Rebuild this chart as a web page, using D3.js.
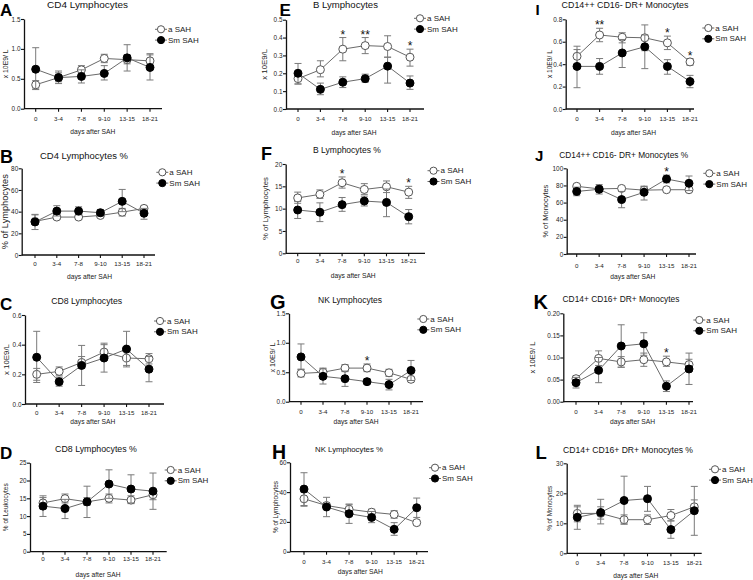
<!DOCTYPE html>
<html>
<head>
<meta charset="utf-8">
<script src="https://cdn.jsdelivr.net/npm/d3@7"></script>
<style>
  body { margin: 0; background: #fff; }
  svg { display: block; font-family: "Liberation Sans", Arial, sans-serif; }
</style>
</head>
<body>
<svg id="chart" width="753" height="580"></svg>
<script>
// x categories
var days = ["0", "3-4", "7-8", "9-10", "13-15", "18-21"];
var seriesNames = ["a SAH", "Sm SAH"];

// each point: [mean, low end of bar, high end of bar]
var cd4_a  = [[0.40,0.33,0.47],[0.52,0.45,0.60],[0.65,0.58,0.72],[0.84,0.77,0.91],[0.82,0.75,0.90],[0.80,0.72,0.90]];
var cd4_sm = [[0.66,0.32,1.02],[0.52,0.42,0.63],[0.54,0.43,0.65],[0.59,0.48,0.72],[0.85,0.63,1.07],[0.69,0.48,0.92]];

var cd4p_a  = [[31,28,37],[35,33,37],[35,33,37],[36.5,35,38],[39.5,36,43],[43,41,45]];
var cd4p_sm = [[30.5,23.5,37.5],[40.5,36,45.5],[40.5,37,44.5],[39,36,42],[49.5,40,60.5],[38.5,33,43]];

var cd8_a  = [[0.20,0.16,0.24],[0.22,0.19,0.25],[0.28,0.24,0.32],[0.35,0.30,0.41],[0.31,0.26,0.37],[0.305,0.27,0.34]];
var cd8_sm = [[0.315,0.145,0.49],[0.15,0.12,0.18],[0.26,0.125,0.395],[0.31,0.215,0.40],[0.37,0.25,0.49],[0.235,0.15,0.32]];

var cd8p_a  = [[13.7,12,15.7],[14.9,13.7,16.2],[14.0,13,15.2],[15.0,13.7,16.2],[14.5,13.5,15.7],[16.0,14.6,17.5]];
var cd8p_sm = [[12.8,9.9,15.2],[12.1,9.3,14.7],[14.0,9.6,18.4],[19.0,15,23],[17.6,13.7,21.6],[17.0,11.9,22.1]];

var b_a  = [[0.17,0.14,0.20],[0.22,0.18,0.27],[0.335,0.27,0.40],[0.355,0.31,0.40],[0.35,0.29,0.41],[0.29,0.24,0.335]];
var b_sm = [[0.20,0.14,0.255],[0.11,0.08,0.145],[0.15,0.12,0.18],[0.17,0.15,0.195],[0.24,0.145,0.29],[0.145,0.11,0.185]];

var bp_a  = [[12.4,11.2,13.7],[13.2,12.3,14.2],[15.8,14.6,17.1],[14.3,13.2,15.6],[14.9,13.6,16.2],[13.7,12.3,15.0]];
var bp_sm = [[9.7,7.8,11.6],[9.2,7.1,11.3],[10.9,9.4,12.5],[11.7,10.6,12.8],[11.4,8.2,14.4],[8.2,6.6,9.8]];

var nk_a  = [[0.48,0.42,0.55],[0.50,0.44,0.57],[0.57,0.51,0.63],[0.57,0.51,0.64],[0.49,0.43,0.55],[0.38,0.34,0.42]];
var nk_sm = [[0.76,0.55,0.98],[0.43,0.30,0.56],[0.39,0.26,0.52],[0.34,0.30,0.39],[0.29,0.20,0.38],[0.53,0.36,0.70]];

var nkp_a  = [[35.5,30.5,40],[31,29,33],[28.5,25,31.5],[26.5,24,28.5],[25,22.5,27.5],[19.5,18,21]];
var nkp_sm = [[42,31,53],[30,23.5,36.5],[25.5,19,32],[23,19.5,27],[15,11,19.5],[29.5,23,36]];

var cl_a  = [[0.47,0.40,0.56],[0.66,0.60,0.72],[0.64,0.59,0.68],[0.635,0.52,0.75],[0.59,0.53,0.65],[0.42,0.39,0.45]];
var cl_sm = [[0.38,0.19,0.53],[0.38,0.31,0.45],[0.50,0.37,0.62],[0.555,0.36,0.66],[0.38,0.31,0.44],[0.245,0.19,0.30]];

var clp_a  = [[79,77,81],[76,74,78],[76.5,74,79],[74.5,72,79],[75,73,77],[75,73,77]];
var clp_sm = [[73,68,78],[75.5,70,81],[63.5,54,73],[72,63,79],[87.5,83,92],[82.5,74,91]];

var int_a  = [[0.052,0.048,0.058],[0.098,0.082,0.115],[0.090,0.078,0.102],[0.095,0.080,0.110],[0.090,0.080,0.103],[0.084,0.073,0.096]];
var int_sm = [[0.043,0.031,0.055],[0.071,0.043,0.100],[0.126,0.078,0.174],[0.131,0.105,0.156],[0.035,0.023,0.047],[0.074,0.039,0.110]];

var intp_a  = [[13.3,10.5,16],[13.3,11.4,15.5],[11.2,9.8,12.8],[11.2,9.6,12.8],[12.6,10.8,14.6],[15.5,13.4,17.8]];
var intp_sm = [[12,8,15.5],[13.6,9.8,18],[17.6,9.7,25.7],[18.2,14,22.3],[7.9,5,10.8],[14.2,6,22.3]];

// significance marks: [day, mark]
var b_stars   = [["7-8","*"],["9-10","**"],["18-21","*"]];
var bp_stars  = [["7-8","*"],["18-21","*"]];
var nk_stars  = [["9-10","*"]];
var cl_stars  = [["3-4","**"],["13-15","*"],["18-21","*"]];
var clp_stars = [["13-15","*"]];
var int_stars = [["13-15","*"]];

// y axis ranges: [max, step]
var yAxes = {
  A: [1.5, 0.5], B: [80, 20], C: [0.6, 0.2], D: [25, 5],
  E: [0.5, 0.1], F: [20, 5], G: [1.5, 0.5], H: [60, 20],
  I: [0.8, 0.2], J: [100, 20], K: [0.2, 0.05], L: [30, 10]
};

// panel layout (pixel positions, text widths)
var panels = [
  {id:"A", title:"CD4 Lymphocytes", ylab:"x 10E9/ L", fmt:".1f", a:cd4_a, sm:cd4_sm, stars:[],
   ax:24, x0:35.7, x5:150, xe:162, yt:19, yb:108.7, tickY:118, xtY:131, titleX:87.5, titleY:8, titleW:81,
   letterX:0, letterY:15.5, letterS:17, legX:161, legY:29.3, ylabX:5, ylabW:29},
  {id:"B", title:"CD4 Lymphocytes %", ylab:"% of Lymphocytes", fmt:"d", a:cd4p_a, sm:cd4p_sm, stars:[],
   ax:21.7, x0:35, x5:144, xe:155, yt:168.3, yb:255, tickY:263, xtY:276.7, titleX:84, titleY:158.5, titleW:88,
   letterX:0, letterY:163, letterS:18, legX:162.3, legY:172.3, ylabX:5, ylabW:75},
  {id:"C", title:"CD8 Lymphocytes", ylab:"x 10E9/L", fmt:".1f", a:cd8_a, sm:cd8_sm, stars:[],
   ax:25, x0:36.7, x5:149, xe:164, yt:315, yb:404, tickY:412, xtY:421.7, titleX:86.7, titleY:303.5, titleW:71,
   letterX:0, letterY:310, letterS:17, legX:160, legY:321, ylabX:6.5, ylabW:31},
  {id:"D", title:"CD8 Lymphocytes %", ylab:"% of Leukocytes", fmt:"d", a:cd8p_a, sm:cd8p_sm, stars:[],
   ax:30, x0:43, x5:153, xe:166.7, yt:462.7, yb:551.7, tickY:558.5, xtY:574, titleX:96, titleY:451.5, titleW:82,
   letterX:0, letterY:458.5, letterS:17, legX:170.7, legY:470, ylabX:5.5, ylabW:48},
  {id:"E", title:"B  Lymphocytes", ylab:"x 10E9/L", fmt:".1f", a:b_a, sm:b_sm, stars:b_stars,
   ax:286, x0:298, x5:410, xe:424, yt:19.7, yb:109, tickY:118, xtY:132, titleX:345.5, titleY:7.5, titleW:65,
   letterX:279.5, letterY:15.5, letterS:17, legX:420, legY:18.3, ylabX:264, ylabW:31},
  {id:"F", title:"B Lymphocytes %", ylab:"% of Lymphocytes", fmt:"d", a:bp_a, sm:bp_sm, stars:bp_stars,
   ax:285.7, x0:297.7, x5:408.7, xe:425, yt:164, yb:253.3, tickY:260.7, xtY:275, titleX:347, titleY:152.5, titleW:68,
   letterX:261, letterY:159.5, letterS:18, legX:433.5, legY:170.7, ylabX:265.5, ylabW:63},
  {id:"G", title:"NK Lymphocytes", ylab:"x 10E9/ L", fmt:".1f", a:nk_a, sm:nk_sm, stars:nk_stars,
   ax:289, x0:301, x5:411, xe:423, yt:313.3, yb:401.7, tickY:411, xtY:421.7, titleX:350, titleY:302.5, titleW:64,
   letterX:270, letterY:308.5, letterS:20, legX:423.3, legY:319, ylabX:273, ylabW:30},
  {id:"H", title:"NK Lymphocytes %", ylab:"% of Lymphocytes", fmt:"d", a:nkp_a, sm:nkp_sm, stars:[],
   ax:290, x0:304, x5:416.7, xe:428, yt:462.3, yb:551.7, tickY:561, xtY:571.7, titleX:349, titleY:451.5, titleW:68,
   letterX:272, letterY:458.5, letterS:19.5, legX:435, legY:467.7, ylabX:275.5, ylabW:52},
  {id:"I", title:"CD14++ CD16- DR+ Monocytes", ylab:"x 10E9/ L", fmt:".1f", a:cl_a, sm:cl_sm, stars:cl_stars,
   ax:565.7, x0:577, x5:690, xe:694, yt:19.3, yb:109, tickY:118, xtY:132, titleX:625, titleY:7.5, titleW:127,
   letterX:535.5, letterY:14.5, letterS:15, legX:708.3, legY:28, ylabX:549, ylabW:28},
  {id:"J", title:"CD14++ CD16- DR+ Monocytes %", ylab:"% of Monocytes", fmt:"d", a:clp_a, sm:clp_sm, stars:clp_stars,
   ax:566.7, x0:576.7, x5:689, xe:696, yt:168.3, yb:254, tickY:265, xtY:276, titleX:623.7, titleY:157.5, titleW:129,
   letterX:535, letterY:160.5, letterS:15, legX:709.3, legY:173.3, ylabX:545, ylabW:53},
  {id:"K", title:"CD14+ CD16+ DR+ Monocytes", ylab:"x 10E9/ L", fmt:".2f", a:int_a, sm:int_sm, stars:int_stars,
   ax:563.3, x0:576, x5:689, xe:693, yt:313.3, yb:401.7, tickY:411.7, xtY:421.7, titleX:621, titleY:302, titleW:117,
   letterX:533.5, letterY:309, letterS:20, legX:699.3, legY:320, ylabX:532, ylabW:32},
  {id:"L", title:"CD14+ CD16+ DR+ Monocytes %", ylab:"% of Monocytes", fmt:"d", a:intp_a, sm:intp_sm, stars:[],
   ax:566.7, x0:577.3, x5:694.3, xe:701.7, yt:463.3, yb:553.3, tickY:562.3, xtY:575, titleX:628, titleY:452.5, titleW:130,
   letterX:535.5, letterY:459, letterS:18.5, legX:715, legY:469.3, ylabX:549.7, ylabW:45}
];

var svg = d3.select("#chart");
var lineColor = "#6a6a6a";
var barColor = "#7a7a7a";

// scale a text's font so it spans the given width
function fitWidth(sel, w) {
    var len = sel.node().getComputedTextLength();
    if (len > 0) sel.attr("font-size", 10 * w / len);
}

panels.forEach(function (p) {
    var g = svg.append("g").attr("class", "panel");
    var ymax = yAxes[p.id][0], ystep = yAxes[p.id][1];

    var x = d3.scalePoint().domain(days).range([p.x0, p.x5]);
    var y = d3.scaleLinear().domain([0, ymax]).range([p.yb, p.yt]);

    // y axis
    var yAxis = d3.axisLeft(y)
        .tickValues(d3.range(0, ymax + ystep / 2, ystep))
        .tickSize(3)
        .tickSizeOuter(0)
        .tickFormat(d3.format(p.fmt));
    var yg = g.append("g").attr("transform", "translate(" + p.ax + ",0)").call(yAxis);
    yg.select(".domain").attr("stroke", "#111").attr("stroke-width", 1.3);
    yg.selectAll(".tick line").attr("stroke", "#111").attr("stroke-width", 1.1);
    yg.selectAll(".tick text").attr("font-size", 6.4).attr("fill", "#222").attr("x", -3.5)
        .attr("font-family", "Liberation Sans, Arial, sans-serif");

    // x axis
    g.append("line")
        .attr("x1", p.ax).attr("x2", p.xe).attr("y1", p.yb).attr("y2", p.yb)
        .attr("stroke", "#111").attr("stroke-width", 1.3);
    g.selectAll(".xtick").data(days).enter().append("line")
        .attr("x1", function (d) { return x(d); }).attr("x2", function (d) { return x(d); })
        .attr("y1", p.yb).attr("y2", p.yb + 3)
        .attr("stroke", "#111").attr("stroke-width", 1.1);
    g.selectAll(".xlab").data(days).enter().append("text")
        .attr("x", function (d) { return x(d); })
        .attr("y", p.tickY)
        .attr("text-anchor", "middle").attr("dominant-baseline", "central")
        .attr("font-size", 6.2).attr("fill", "#222")
        .text(function (d) { return d; });

    g.append("text")
        .attr("x", (p.x0 + p.x5) / 2).attr("y", p.xtY)
        .attr("text-anchor", "middle").attr("dominant-baseline", "central")
        .attr("font-size", 6.7).attr("fill", "#222")
        .text("days after SAH");

    // y label
    var yl = g.append("text")
        .attr("transform", "translate(" + p.ylabX + "," + ((p.yt + p.yb) / 2) + ") rotate(-90)")
        .attr("text-anchor", "middle").attr("dominant-baseline", "central")
        .attr("font-size", 10).attr("fill", "#222")
        .text(p.ylab);
    fitWidth(yl, p.ylabW);

    // title and panel letter
    var tt = g.append("text")
        .attr("x", p.titleX).attr("y", p.titleY)
        .attr("text-anchor", "middle")
        .attr("font-size", 10).attr("fill", "#111")
        .text(p.title);
    fitWidth(tt, p.titleW);
    g.append("text")
        .attr("x", p.letterX).attr("y", p.letterY)
        .attr("font-size", p.letterS).attr("font-weight", "bold").attr("fill", "#000")
        .text(p.id);

    var series = [
        {name: seriesNames[0], data: p.a, fill: "#fff"},
        {name: seriesNames[1], data: p.sm, fill: "#000"}
    ];

    var line = d3.line()
        .x(function (d, i) { return x(days[i]); })
        .y(function (d) { return y(d[0]); });

    series.forEach(function (s) {
        var sg = g.append("g");
        sg.append("path")
            .attr("d", line(s.data))
            .attr("fill", "none").attr("stroke", lineColor).attr("stroke-width", 1);

        var eb = sg.selectAll(".eb").data(s.data).enter().append("g");
        eb.append("line")
            .attr("x1", function (d, i) { return x(days[i]); })
            .attr("x2", function (d, i) { return x(days[i]); })
            .attr("y1", function (d) { return y(d[1]); })
            .attr("y2", function (d) { return y(d[2]); })
            .attr("stroke", barColor).attr("stroke-width", 1);
        [1, 2].forEach(function (k) {
            eb.append("line")
                .attr("x1", function (d, i) { return x(days[i]) - 3.5; })
                .attr("x2", function (d, i) { return x(days[i]) + 3.5; })
                .attr("y1", function (d) { return y(d[k]); })
                .attr("y2", function (d) { return y(d[k]); })
                .attr("stroke", barColor).attr("stroke-width", 1);
        });

        sg.selectAll(".pt").data(s.data).enter().append("circle")
            .attr("cx", function (d, i) { return x(days[i]); })
            .attr("cy", function (d) { return y(d[0]); })
            .attr("r", 4)
            .attr("fill", s.fill)
            .attr("stroke", s.fill === "#000" ? "#000" : "#555")
            .attr("stroke-width", 1);
    });

    // stars
    g.selectAll(".star").data(p.stars).enter().append("text")
        .attr("x", function (d) { return x(d[0]); })
        .attr("y", function (d) {
            var i = days.indexOf(d[0]);
            var top = Math.min(y(p.a[i][2]), y(p.sm[i][2]));
            return top + 1;
        })
        .attr("text-anchor", "middle")
        .attr("font-size", 12).attr("fill", "#111")
        .text(function (d) { return d[1]; });

    // legend
    series.forEach(function (s, k) {
        var ly = p.legY + k * 10.8;
        g.append("line")
            .attr("x1", p.legX - 6).attr("x2", p.legX + 6)
            .attr("y1", ly).attr("y2", ly)
            .attr("stroke", lineColor).attr("stroke-width", 1);
        g.append("circle")
            .attr("cx", p.legX).attr("cy", ly).attr("r", 3.6)
            .attr("fill", s.fill)
            .attr("stroke", s.fill === "#000" ? "#000" : "#555").attr("stroke-width", 1);
        g.append("text")
            .attr("x", p.legX + 7).attr("y", ly)
            .attr("dominant-baseline", "central")
            .attr("font-size", 8).attr("fill", "#222")
            .text(s.name);
    });
});
</script>
</body>
</html>
